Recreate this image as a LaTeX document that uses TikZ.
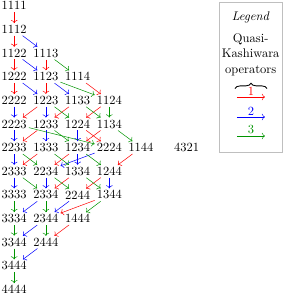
\documentclass[tikz,border=0pt]{standalone}
\usetikzlibrary{arrows.meta,decorations.pathreplacing}
\definecolor{qgreen}{rgb}{0,0.58,0}
\begin{document}
\begin{tikzpicture}[x=0.8pt,y=-0.8pt,
  w/.style={inner sep=1.5pt},
  opa/.style={->,red},
  opb/.style={->,blue},
  opc/.style={->,qgreen},
  lbl/.style={inner sep=1.2pt},
  bracestyle/.style={decorate,decoration={brace,amplitude=4.2pt},line width=0.7pt}]
\useasboundingbox (0,0) rectangle (286,296);
% columns 14.2, 45.9, 77.6, 109.3, 141.0 ; rows 5.8 + 23.64 k
\node[w] (n1111) at (14.2,5.8) {1111};
\node[w] (n1112) at (14.2,29.4) {1112};
\node[w] (n1122) at (14.2,53.1) {1122};
\node[w] (n1113) at (45.9,53.1) {1113};
\node[w] (n1222) at (14.2,76.7) {1222};
\node[w] (n1123) at (45.9,76.7) {1123};
\node[w] (n1114) at (77.6,76.7) {1114};
\node[w] (n2222) at (14.2,100.4) {2222};
\node[w] (n1223) at (45.9,100.4) {1223};
\node[w] (n1133) at (77.6,100.4) {1133};
\node[w] (n1124) at (109.3,100.4) {1124};
\node[w] (n2223) at (14.2,124.0) {2223};
\node[w] (n1233) at (45.9,124.0) {1233};
\node[w] (n1224) at (77.6,124.0) {1224};
\node[w] (n1134) at (109.3,124.0) {1134};
\node[w] (n2233) at (14.2,147.6) {2233};
\node[w] (n1333) at (45.9,147.6) {1333};
\node[w] (n1234) at (77.6,147.6) {1234};
\node[w] (n2224) at (109.3,147.6) {2224};
\node[w] (n1144) at (141.0,147.6) {1144};
\node[w] (n4321) at (186.7,147.6) {4321};
\node[w] (n2333) at (14.2,171.3) {2333};
\node[w] (n2234) at (45.9,171.3) {2234};
\node[w] (n1334) at (77.6,171.3) {1334};
\node[w] (n1244) at (109.3,171.3) {1244};
\node[w] (n3333) at (14.2,194.9) {3333};
\node[w] (n2334) at (45.9,194.9) {2334};
\node[w] (n2244) at (77.6,194.9) {2244};
\node[w] (n1344) at (109.3,194.9) {1344};
\node[w] (n3334) at (14.2,218.6) {3334};
\node[w] (n2344) at (45.9,218.6) {2344};
\node[w] (n1444) at (77.6,218.6) {1444};
\node[w] (n3344) at (14.2,242.2) {3344};
\node[w] (n2444) at (45.9,242.2) {2444};
\node[w] (n3444) at (14.2,265.9) {3444};
\node[w] (n4444) at (14.2,289.5) {4444};
% operator 1 (red)
\foreach \a/\b in {1111/1112,1112/1122,1122/1222,1113/1123,1222/2222,1123/1223,
  1114/1124,1223/2223,1133/1233,1124/1224,1233/2233,1224/2224,1134/1234,
  1333/2333,1234/2234,1144/1244,1334/2334,1244/2244,1344/2344,1444/2444}
  \draw[opa] (n\a) -- (n\b);
% operator 2 (blue)
\foreach \a/\b in {1112/1113,1122/1123,1222/1223,1123/1133,2222/2223,1223/1233,
  2223/2233,1233/1333,1224/1234,2233/2333,2224/2234,1234/1334,2333/3333,
  2234/2334,1244/1344,2334/3334,2244/2344,2344/3344,2444/3444}
  \draw[opb] (n\a) -- (n\b);
% operator 3 (green)
\foreach \a/\b in {1113/1114,1123/1124,1223/1224,1133/1134,1124/1134,2223/2224,
  1233/1234,1134/1144,2233/2234,1333/1334,1234/1244,2333/2334,2234/2244,
  1334/1344,3333/3334,2334/2344,1344/1444,3334/3344,2344/2444,3344/3444,
  3444/4444}
  \draw[opc] (n\a) -- (n\b);
% legend
\node[draw=black!25,line width=0.4pt,minimum width=50.8pt,minimum height=120pt,inner sep=0pt] (box) at (250.7,77) {};
\node[anchor=base] (lgd) at (250.7,20) {\textit{Legend}};
\node[anchor=base] (q1) at (250.7,42) {Quasi-};
\node[anchor=base] (q2) at (250.7,57.5) {Kashiwara};
\node[anchor=base] (q3) at (250.7,73) {operators};
\coordinate (bl) at (235,88.5);
\coordinate (bh) at (267,88.5);
\draw[bracestyle] (bl) -- (bh);
\coordinate (a1) at (237,97);  \coordinate (b1) at (265,97);
\coordinate (a2) at (237,117); \coordinate (b2) at (265,117);
\coordinate (a3) at (237,136); \coordinate (b3) at (265,136);
\draw[opa] (a1) -- node[above,lbl] {1} (b1);
\draw[opb] (a2) -- node[above,lbl] {2} (b2);
\draw[opc] (a3) -- node[above,lbl] {3} (b3);
\end{tikzpicture}
\end{document}
